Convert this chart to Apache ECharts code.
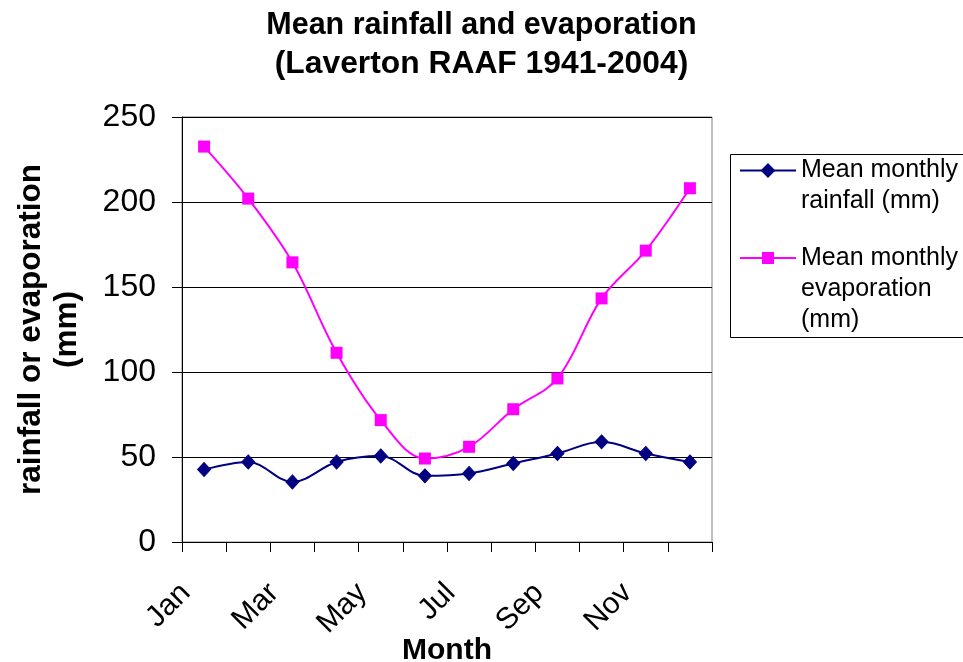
<!DOCTYPE html>
<html>
<head>
<meta charset="utf-8">
<script src="https://cdn.jsdelivr.net/npm/echarts@6/dist/echarts.min.js"></script>
<style>
html,body{margin:0;padding:0;background:#fff;}
#chart{width:963px;height:662px;}
</style>
</head>
<body>
<div id="chart"></div>
<script>
var months = ['Jan','Feb','Mar','Apr','May','Jun','Jul','Aug','Sep','Oct','Nov','Dec'];
var rainfall = [42.6, 47.1, 35.3, 47.1, 50.6, 38.9, 40.3, 46.2, 52.1, 58.9, 52.1, 47.1];
var evaporation = [232.6, 202.0, 164.5, 111.3, 71.7, 49.1, 56.0, 78.1, 96.2, 143.3, 171.4, 208.1];
var rainName = 'Mean monthly rainfall (mm)';
var evapName = 'Mean monthly evaporation (mm)';
var yMin = 0, yMax = 250, yStep = 50;

var FONT = '"Liberation Sans", Arial, sans-serif';
var chart = echarts.init(document.getElementById('chart'), null, {renderer:'canvas'});

var option = {
  backgroundColor: '#ffffff',
  animation: false,
  title: {
    text: '{a|Mean rainfall and evaporation}\n{b|(Laverton RAAF 1941-2004)}',
    left: 'center',
    top: 6,
    padding: 0,
    textStyle: {
      fontFamily: FONT, fontSize: 30.5, fontWeight: 'bold', color: '#000', lineHeight: 39,
      rich: {
        a: {fontFamily: FONT, fontSize: 30.5, fontWeight: 'bold', color: '#000', lineHeight: 39},
        b: {fontFamily: FONT, fontSize: 31.8, fontWeight: 'bold', color: '#000', lineHeight: 39}
      }
    }
  },
  grid: {left: 182, top: 117, right: 251, bottom: 120, show: true, borderColor: '#808080', borderWidth: 1, containLabel: false, outerBoundsMode: 'none'},
  legend: [
    {
      data: [rainName],
      orient: 'vertical', left: 739, top: 124, padding: 0,
      itemWidth: 56, itemHeight: 15, selectedMode: false,
      formatter: function(){ return '\nMean monthly\nrainfall (mm)'; },
      textStyle: {fontFamily: FONT, fontSize: 25, color: '#000', lineHeight: 31}
    },
    {
      data: [evapName],
      orient: 'vertical', left: 739, top: 180.5, padding: 0,
      itemWidth: 56, itemHeight: 15, selectedMode: false,
      formatter: function(){ return '\n\nMean monthly\nevaporation\n(mm)'; },
      textStyle: {fontFamily: FONT, fontSize: 25, color: '#000', lineHeight: 31}
    }
  ],
  graphic: [
    {type: 'rect', left: 728, top: 152, shape: {width: 260, height: 183}, style: {fill: 'none', stroke: '#000', lineWidth: 1}, silent: true}
  ],
  xAxis: {
    type: 'category',
    data: months,
    boundaryGap: true,
    name: 'Month',
    nameLocation: 'middle',
    nameGap: 94,
    nameMoveOverlap: false,
    nameTextStyle: {fontFamily: FONT, fontSize: 30, fontWeight: 'bold', color: '#000'},
    axisLine: {lineStyle: {color: '#000', width: 1}},
    axisTick: {show: true, interval: 0, length: 10, lineStyle: {color: '#000'}},
    axisLabel: {interval: 1, rotate: 45, margin: 28, padding: [0, 26, 0, 0], fontFamily: FONT, fontSize: 30, color: '#000'},
    splitLine: {show: false}
  },
  yAxis: {
    type: 'value',
    min: yMin, max: yMax, interval: yStep,
    name: 'rainfall or evaporation\n(mm)',
    nameLocation: 'middle',
    nameGap: 97,
    nameMoveOverlap: false,
    nameTextStyle: {fontFamily: FONT, fontSize: 31.5, fontWeight: 'bold', color: '#000', lineHeight: 36},
    axisLine: {show: true, lineStyle: {color: '#000', width: 1}},
    axisTick: {show: true, length: 10, lineStyle: {color: '#000'}},
    axisLabel: {margin: 26, fontFamily: FONT, fontSize: 32, color: '#000'},
    splitLine: {show: true, lineStyle: {color: '#000', width: 1}}
  },
  series: [
    {
      name: rainName,
      type: 'line',
      data: rainfall,
      smooth: 0.35,
      symbol: 'diamond',
      symbolSize: [13, 14],
      lineStyle: {color: '#000080', width: 2},
      itemStyle: {color: '#000080', borderColor: '#000080', borderWidth: 1}
    },
    {
      name: evapName,
      type: 'line',
      data: evaporation,
      smooth: 0.35,
      symbol: 'rect',
      symbolSize: 12,
      lineStyle: {color: '#FF00FF', width: 2},
      itemStyle: {color: '#FF00FF', borderColor: '#FF00FF', borderWidth: 0}
    }
  ]
};
chart.setOption(option);
</script>
</body>
</html>
